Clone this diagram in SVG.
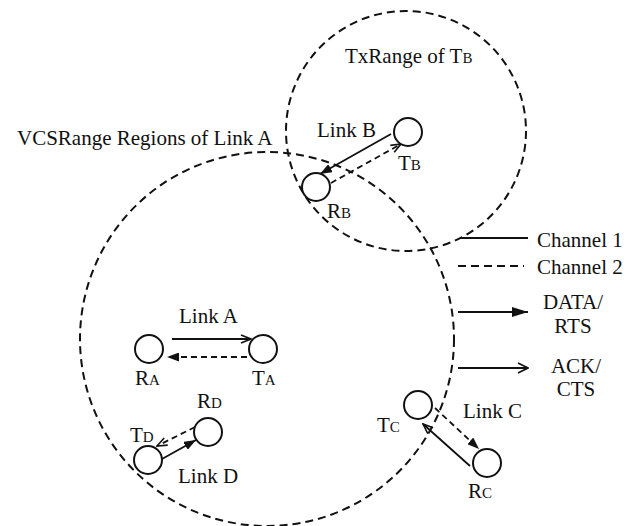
<svg xmlns="http://www.w3.org/2000/svg" width="638" height="526" viewBox="0 0 638 526">
<style>
text{font-family:'Liberation Serif',Tinos,'Times New Roman','DejaVu Serif',serif;font-size:21px;fill:#111}
.sub{font-size:15px}
.range{fill:none;stroke:#111;stroke-width:2;stroke-dasharray:8 5}
.node{fill:#fff;stroke:#111;stroke-width:2}
.solid{fill:none;stroke:#111;stroke-width:1.8}
.dash{fill:none;stroke:#111;stroke-width:1.8;stroke-dasharray:6 4}
</style>
<defs>
<marker id="fh" viewBox="0 0 12 9" refX="12" refY="4.5" markerWidth="12" markerHeight="9" markerUnits="userSpaceOnUse" orient="auto"><path d="M0,0 L12,4.5 L0,9 z" fill="#111" stroke="none"/></marker>
<marker id="oh" viewBox="0 0 12 10" refX="11" refY="5" markerWidth="12" markerHeight="10" markerUnits="userSpaceOnUse" orient="auto"><path d="M1,1 L11,5 L1,9" fill="none" stroke="#111" stroke-width="1.6" stroke-dasharray="none"/></marker>
<marker id="fhL" viewBox="0 0 16 10" refX="16" refY="5" markerWidth="16" markerHeight="10" markerUnits="userSpaceOnUse" orient="auto"><path d="M0,0 L16,5 L0,10 z" fill="#111" stroke="none"/></marker>
<marker id="ohL" viewBox="0 0 12 12" refX="11" refY="6" markerWidth="12" markerHeight="12" markerUnits="userSpaceOnUse" orient="auto"><path d="M1,1 L11,6 L1,11" fill="none" stroke="#111" stroke-width="1.6"/></marker>
</defs>
<rect width="638" height="526" fill="#fff"/>

<g id="ranges">
<circle class="range" cx="267" cy="339" r="187"/>
<circle class="range" cx="406" cy="131" r="120"/>
<text x="17" y="145">VCSRange Regions of Link A</text>
<text x="345" y="63">TxRange of T<tspan class="sub">B</tspan></text>
</g>

<g id="connectors">
<line class="solid" x1="172" y1="339" x2="251" y2="339" marker-end="url(#oh)"/>
<line class="dash" x1="247" y1="357" x2="167" y2="357" marker-end="url(#fh)"/>
<line class="solid" x1="391" y1="134" x2="320" y2="174" marker-end="url(#fh)"/>
<line class="dash" x1="331" y1="183" x2="401" y2="144" marker-end="url(#oh)"/>
<line class="dash" x1="435" y1="408" x2="479" y2="449" marker-end="url(#fh)"/>
<line class="solid" x1="470" y1="466" x2="423" y2="424" marker-end="url(#oh)"/>
<line class="solid" x1="162" y1="459" x2="196" y2="440" marker-end="url(#fh)"/>
<line class="dash" x1="195" y1="427" x2="157" y2="446" marker-end="url(#oh)"/>
</g>

<g id="RA"><circle class="node" cx="149" cy="349" r="14"/><text x="135" y="385">R<tspan class="sub">A</tspan></text></g>
<g id="TA"><circle class="node" cx="263" cy="349" r="14"/><text x="252" y="385">T<tspan class="sub">A</tspan></text></g>
<g id="RB"><circle class="node" cx="316" cy="187" r="14"/><text x="327" y="218">R<tspan class="sub">B</tspan></text></g>
<g id="TB"><circle class="node" cx="408" cy="132" r="14"/><text x="398" y="170">T<tspan class="sub">B</tspan></text></g>
<g id="TC"><circle class="node" cx="418" cy="405" r="14"/><text x="377" y="432">T<tspan class="sub">C</tspan></text></g>
<g id="RC"><circle class="node" cx="487" cy="463" r="14"/><text x="468" y="498">R<tspan class="sub">C</tspan></text></g>
<g id="TD"><circle class="node" cx="148" cy="460" r="14"/><text x="130" y="442">T<tspan class="sub">D</tspan></text></g>
<g id="RD"><circle class="node" cx="208" cy="432" r="14"/><text x="197" y="408">R<tspan class="sub">D</tspan></text></g>

<g id="link-labels">
<text x="179" y="323">Link A</text>
<text x="317" y="137">Link B</text>
<text x="463" y="418">Link C</text>
<text x="178" y="483">Link D</text>
</g>

<g id="legend">
<line x1="460" y1="238" x2="528" y2="238" stroke="#111" stroke-width="1.8"/>
<text x="537" y="247">Channel 1</text>
<line x1="458" y1="266" x2="524" y2="266" stroke="#111" stroke-width="1.8" stroke-dasharray="8 5"/>
<text x="537" y="274">Channel 2</text>
<line x1="458" y1="312" x2="528" y2="312" stroke="#111" stroke-width="1.8" marker-end="url(#fhL)"/>
<text x="573" y="309" text-anchor="middle">DATA/</text>
<text x="573" y="333" text-anchor="middle">RTS</text>
<line x1="458" y1="368" x2="528" y2="368" stroke="#111" stroke-width="1.8" marker-end="url(#ohL)"/>
<text x="576" y="373" text-anchor="middle">ACK/</text>
<text x="576" y="396" text-anchor="middle">CTS</text>
</g>
</svg>
